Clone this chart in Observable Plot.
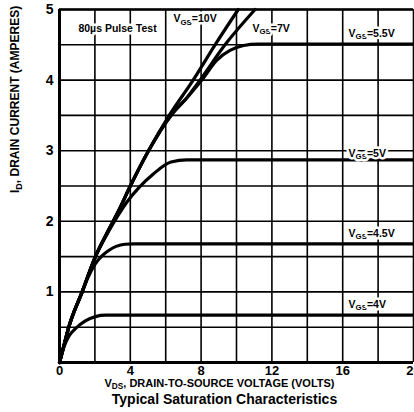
<!DOCTYPE html>
<html><head><meta charset="utf-8">
<script src="https://cdn.jsdelivr.net/npm/d3@7"></script>
<script src="https://cdn.jsdelivr.net/npm/@observablehq/plot@0.6"></script>
<style>html,body{margin:0;padding:0;background:#fff}svg{display:block}</style>
</head><body><div id="chart"></div>
<script>
// ---- data ----
const xTicks = [0, 4, 8, 12, 16, 20];
const yTicks = [1, 2, 3, 4, 5];
const xGrid = [0, 2, 4, 6, 8, 10, 12, 14, 16, 18, 20];
const yGrid = [0, 0.5, 1, 1.5, 2, 2.5, 3, 3.5, 4, 4.5, 5];

const vds10 = [0, 0.25, 0.5, 1.28, 2.03, 2.78, 3.34, 4, 5.03, 6.2, 7.55, 8.79, 10.1];
const id10  = [0, 0.24, 0.48, 1.0, 1.5, 1.88, 2.15, 2.5, 3.0, 3.5, 4.0, 4.5, 5.0];
const vds7  = [0, 0.25, 0.5, 1.28, 2.03, 2.78, 3.34, 4, 5.03, 6.3, 7.2, 7.94, 9.35, 11.05];
const id7   = [0, 0.24, 0.48, 1.0, 1.5, 1.88, 2.15, 2.5, 3.0, 3.5, 3.75, 4.0, 4.5, 5.0];
const vds55 = [0, 0.25, 0.5, 1.28, 2.03, 2.78, 3.34, 4, 5.03, 6.3, 7.2, 8.04, 8.88, 9.63, 10.4, 11.2, 20];
const id55  = [0, 0.24, 0.48, 1.0, 1.5, 1.88, 2.15, 2.5, 3.0, 3.5, 3.75, 4.0, 4.28, 4.42, 4.49, 4.51, 4.51];
const vds5  = [0, 0.25, 0.5, 1.28, 2.03, 2.78, 3.3, 3.8, 4.5, 5.3, 6.3, 7.2, 20];
const id5   = [0, 0.24, 0.48, 1.0, 1.5, 1.86, 2.08, 2.27, 2.48, 2.67, 2.84, 2.87, 2.87];
const vds45 = [0, 0.25, 0.5, 1.28, 1.6, 2.0, 2.4, 2.8, 3.2, 3.7, 4.2, 20];
const id45  = [0, 0.24, 0.48, 1.0, 1.2, 1.39, 1.51, 1.59, 1.645, 1.675, 1.68, 1.68];
const vds4  = [0, 0.25, 0.52, 0.9, 1.46, 2.03, 2.6, 3.2, 20];
const id4   = [0, 0.22, 0.37, 0.48, 0.59, 0.65, 0.67, 0.67, 0.67];

const curveNames = ["10V", "7V", "5.5V", "5V", "4.5V", "4V"];
const curveVds = [vds10, vds7, vds55, vds5, vds45, vds4];
const curveId  = [id10, id7, id55, id5, id45, id4];

const noteText = ["80µs Pulse Test", "V|GS|=10V", "V|GS|=7V", "V|GS|=5.5V", "V|GS|=5V", "V|GS|=4.5V", "V|GS|=4V"];
const noteVds  = [1.07, 6.44, 10.9, 16.33, 16.33, 16.33, 16.33];
const noteId   = [4.73, 4.87, 4.73, 4.66, 2.96, 1.83, 0.82];

const xLabel = "V|DS|, DRAIN-TO-SOURCE VOLTAGE (VOLTS)";
const yLabel = "I|D|, DRAIN CURRENT (AMPERES)";
const title = "Typical Saturation Characteristics";

// ---- tables ----
const rows = curveNames.flatMap((name, k) =>
  curveVds[k].map((v, j) => ({name, vds: v, id: curveId[k][j]})));
const notes = noteText.map((t, k) => ({t, vds: noteVds[k], id: noteId[k]}));

const plot = Plot.plot({
  width: 414,
  height: 412,
  marginLeft: 59,
  marginRight: 1,
  marginTop: 9,
  marginBottom: 50,
  x: {domain: [0, 20]},
  y: {domain: [0, 5]},
  style: {fontFamily: "'Liberation Sans', Arial, sans-serif", background: "#fff", color: "#000"},
  marks: [
    Plot.ruleX(xGrid, {stroke: "#000", strokeWidth: 1.6}),
    Plot.ruleY(yGrid, {stroke: "#000", strokeWidth: 1.6}),
    Plot.ruleX([0], {stroke: "#000", strokeWidth: 3}),
    Plot.ruleY([0], {stroke: "#000", strokeWidth: 3}),
    Plot.ruleY([5], {stroke: "#000", strokeWidth: 2.6}),
    Plot.line(rows, {x: "vds", y: "id", z: "name", stroke: "#000", strokeWidth: 3.2, curve: "monotone-x", strokeLinecap: "round", strokeLinejoin: "round"}),
    Plot.text(notes, {x: "vds", y: "id", text: "t", textAnchor: "start", fontSize: 10.5, fontWeight: "bold", fill: "#000", stroke: "#fff", strokeWidth: 5}),
    Plot.axisX({ticks: xTicks, tickFormat: (d) => `${d}`, tickSize: 0, tickPadding: 3, fontSize: 13, fontWeight: "bold", label: null}),
    Plot.axisY({ticks: yTicks, tickFormat: (d) => `${d}`, tickSize: 0, tickPadding: 6, fontSize: 14, fontWeight: "bold", label: null}),
    Plot.text([xLabel], {frameAnchor: "bottom", dx: -17, dy: 24, fontSize: 11, fontWeight: "bold", fill: "#000"}),
    Plot.text([title], {frameAnchor: "bottom", dx: -12, dy: 41, fontSize: 14, fontWeight: "bold", fill: "#000"}),
    Plot.text([yLabel], {frameAnchor: "left", rotate: -90, dx: -44, dy: 7, fontSize: 12, fontWeight: "bold", fill: "#000"})
  ]
});

// subscripts: text between bars becomes a lowered, smaller tspan
d3.select(plot).selectAll("text").each(function () {
  const t = this.textContent;
  if (!t.includes("|")) return;
  const parts = t.split("|");
  const el = d3.select(this);
  el.text(null);
  parts.forEach((p, k) => {
    const ts = el.append("tspan").text(p);
    if (k % 2 === 1) ts.attr("font-size", "75%").attr("dy", 2.5);
    else if (k > 0) ts.attr("dy", -2.5);
  });
});

document.getElementById("chart").append(plot);
</script>
</body></html>
